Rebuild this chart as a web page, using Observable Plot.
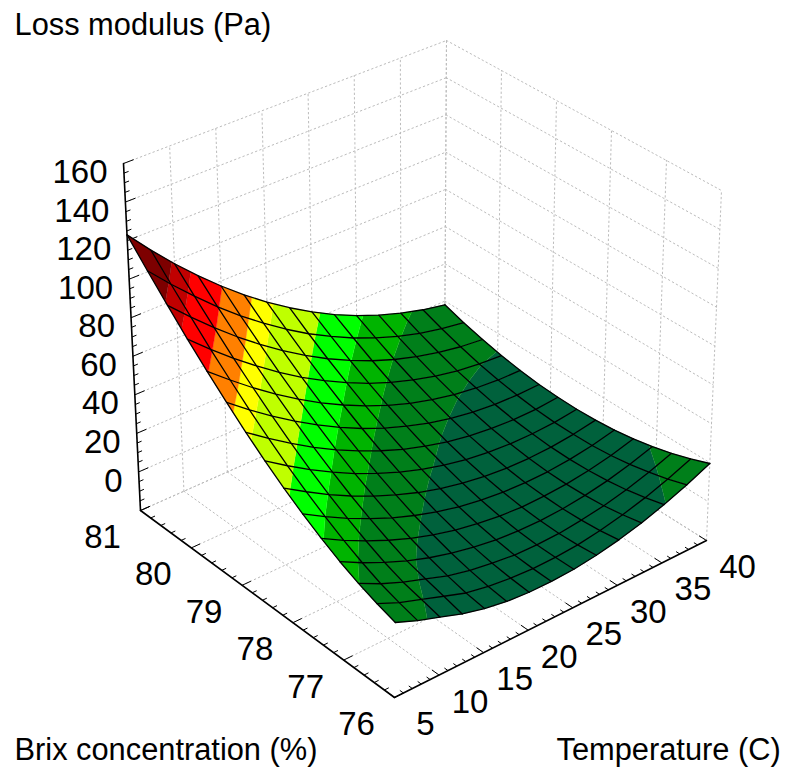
<!DOCTYPE html>
<html>
<head>
<meta charset="utf-8">
<style>html,body{margin:0;padding:0;background:#fff}svg{display:block}</style>
<script src="https://cdn.jsdelivr.net/npm/d3@7"></script>
<script src="https://cdn.jsdelivr.net/npm/@observablehq/plot@0.6"></script>
</head>
<body>
<div id="chart"></div>
<script>
// Grid of the fitted surface (one row per Brix value, one column per temperature)
const temperatures = [5, 7.5, 10, 12.5, 15, 17.5, 20, 22.5, 25, 27.5, 30, 32.5, 35, 37.5, 40];
const brixValues = [81, 80.643, 80.286, 79.929, 79.571, 79.214, 78.857, 78.5, 78.143, 77.786, 77.429, 77.071, 76.714, 76.357, 76];
const lossModulus = [
  [123.0, 110.4, 98.6, 87.6, 77.4, 67.9, 59.3, 51.4, 44.3, 37.9, 32.4, 27.6, 23.6, 20.4, 18.0],
  [110.5, 98.8, 87.9, 77.6, 68.1, 59.4, 51.3, 44.0, 37.6, 31.8, 26.8, 22.6, 19.1, 16.5, 14.6],
  [98.8, 88.0, 77.8, 68.3, 59.5, 51.3, 43.9, 37.2, 31.3, 26.1, 21.7, 18.1, 15.2, 13.1, 11.8],
  [87.7, 77.7, 68.3, 59.5, 51.3, 43.8, 37.1, 31.0, 25.6, 21.0, 17.2, 14.1, 11.7, 10.2, 9.4],
  [77.5, 68.3, 59.5, 51.4, 43.8, 36.9, 30.8, 25.3, 20.5, 16.4, 13.2, 10.6, 8.9, 7.9, 7.7],
  [68.0, 59.4, 51.3, 43.8, 36.9, 30.6, 25.0, 20.1, 16.0, 12.4, 9.7, 7.7, 6.5, 6.1, 6.4],
  [59.2, 51.3, 43.8, 36.8, 30.5, 24.9, 19.9, 15.5, 11.9, 8.9, 6.8, 5.4, 4.7, 4.8, 5.8],
  [51.2, 43.8, 36.9, 30.6, 24.8, 19.8, 15.3, 11.5, 8.5, 6.0, 4.5, 3.6, 3.5, 4.1, 5.6],
  [43.9, 37.1, 30.7, 24.9, 19.7, 15.2, 11.2, 8.0, 5.5, 3.6, 2.6, 2.3, 2.7, 4.0, 6.0],
  [37.4, 31.0, 25.1, 19.9, 15.1, 11.1, 7.7, 5.0, 3.1, 1.8, 1.3, 1.5, 2.5, 4.3, 6.9],
  [31.6, 25.6, 20.2, 15.4, 11.1, 7.7, 4.8, 2.7, 1.2, 0.4, 0.6, 1.3, 2.9, 5.2, 8.4],
  [26.5, 20.9, 15.9, 11.5, 7.8, 4.8, 2.5, 0.8, -0.1, -0.3, 0.3, 1.7, 3.8, 6.7, 10.4],
  [22.2, 16.9, 12.5, 8.9, 5.1, 2.5, 0.7, -0.6, -0.9, -0.6, 0.7, 2.5, 5.2, 8.7, 12.9],
  [18.7, 14.0, 10.3, 6.6, 2.9, 0.8, -0.5, -1.2, -1.0, -0.2, 1.5, 4.0, 7.2, 11.2, 16.0],
  [15.8, 11.5, 8.0, 4.2, 1.5, -0.4, -1.3, -1.4, -0.8, 0.7, 2.9, 5.9, 9.7, 14.2, 19.6]
];
// Contour bands of the surface
const bandLevels = [10, 22, 31, 42, 57, 65, 77, 91, 100];
const bandColors = ["#00613c", "#007f1a", "#00b400", "#00ff00", "#bfff00", "#ffff00", "#ff8000", "#ff0000", "#c00000", "#7d0000"];
// Axis tick labels
const zTicks = [0, 20, 40, 60, 80, 100, 120, 140, 160];
const zGrid = [-20, 0, 20, 40, 60, 80, 100, 120, 140, 160];
const brixTicks = [81, 80, 79, 78, 77, 76];
const tempTicks = [5, 10, 15, 20, 25, 30, 35, 40];
const axisTitles = [
  {text: "Loss modulus (Pa)", px: 14, py: 25},
  {text: "Brix concentration (%)", px: 14, py: 750},
  {text: "Temperature (C)", px: 556, py: 750}
];
// The axes box: data limits and where each of its corners lands on the page
const tRange = [5, 40], bRange = [81, 76], zRange = [-20, 160];
const boxCorners = {
  back:  {floor: [444, 375], top: [446, 40]},
  left:  {floor: [140, 510], top: [123, 163]},
  front: {floor: [394, 697], top: [398, 320]},
  right: {floor: [706, 540], top: [721, 190]}
};

const lerp = (a, b, f) => a + (b - a) * f;
function project(t, b, z) {
  const v = (t - tRange[0]) / (tRange[1] - tRange[0]);
  const u = (b - bRange[0]) / (bRange[1] - bRange[0]);
  const w = (z - zRange[0]) / (zRange[1] - zRange[0]);
  const at = (c) => [lerp(c.floor[0], c.top[0], w), lerp(c.floor[1], c.top[1], w)];
  const L = at(boxCorners.left), Bk = at(boxCorners.back), F = at(boxCorners.front), R = at(boxCorners.right);
  const p = [0, 1].map(k => lerp(lerp(L[k], Bk[k], v), lerp(F[k], R[k], v), u));
  return {x: p[0], y: p[1]};
}
const pt = (t, b, z, extra) => ({...project(t, b, z), ...extra});

// Clip a polygon of {t,b,z} vertices against one contour level
function clip(poly, keep, level) {
  const out = [];
  poly.forEach((p, i) => {
    const q = poly[(i + 1) % poly.length];
    const pin = keep(p.z), qin = keep(q.z);
    if (pin) out.push(p);
    if (pin !== qin) {
      const f = (level - p.z) / (q.z - p.z);
      out.push({t: lerp(p.t, q.t, f), b: lerp(p.b, q.b, f), z: level});
    }
  });
  return out;
}
const vertex = (i, j) => ({t: temperatures[j], b: brixValues[i], z: lossModulus[i][j]});

// Filled bands, painted from the far corner forwards
const bands = [];
let polyId = 0;
for (let i = 0; i < brixValues.length - 1; i++) {
  for (let j = temperatures.length - 2; j >= 0; j--) {
    const cell = [vertex(i, j), vertex(i, j + 1), vertex(i + 1, j + 1), vertex(i + 1, j)];
    for (let k = 0; k < bandColors.length; k++) {
      const lo = k === 0 ? -Infinity : bandLevels[k - 1];
      const hi = k === bandLevels.length ? Infinity : bandLevels[k];
      let poly = cell;
      if (isFinite(lo)) poly = clip(poly, z => z >= lo, lo);
      if (poly.length && isFinite(hi)) poly = clip(poly, z => z < hi, hi);
      if (poly.length < 3) continue;
      const id = polyId++;
      const mid = isFinite(lo) ? lo + 0.5 : hi - 1;
      for (const p of poly) bands.push(pt(p.t, p.b, p.z, {id, band: mid}));
    }
  }
}

// Mesh lines
const mesh = [];
brixValues.forEach((b, i) => temperatures.forEach((t, j) => mesh.push(pt(t, b, lossModulus[i][j], {id: "b" + i}))));
temperatures.forEach((t, j) => brixValues.forEach((b, i) => mesh.push(pt(t, b, lossModulus[i][j], {id: "t" + j}))));

// Dotted grid on the two back walls and the floor
const grid = [];
const seg = (id, a, b) => { grid.push(pt(...a, {id}), pt(...b, {id})); };
zGrid.forEach(z => {
  seg("wb" + z, [tRange[0], 81, z], [tRange[1], 81, z]);
  seg("wt" + z, [40, bRange[0], z], [40, bRange[1], z]);
});
tempTicks.forEach(t => {
  seg("vt" + t, [t, 81, zRange[0]], [t, 81, zRange[1]]);
  seg("ft" + t, [t, 81, zRange[0]], [t, 76, zRange[0]]);
});
brixTicks.forEach(b => {
  seg("vb" + b, [40, b, zRange[0]], [40, b, zRange[1]]);
  seg("fb" + b, [5, b, zRange[0]], [40, b, zRange[0]]);
});

// Axis lines
const axes = [
  pt(5, 81, 160, {id: "z"}), pt(5, 81, -20, {id: "z"}),
  pt(5, 81, -20, {id: "b"}), pt(5, 76, -20, {id: "b"}),
  pt(5, 76, -20, {id: "t"}), pt(40, 76, -20, {id: "t"})
];

// Tick marks, major and minor
const ticks = [];
const tick = (a, b) => { const p = project(...a), q = project(...b); ticks.push({x1: p.x, y1: p.y, x2: q.x, y2: q.y}); };
d3.range(-20, 160.5, 5).forEach(z => tick([5, 81, z], [z % 20 === 0 ? 6.1 : 5.5, 81, z]));
d3.range(0, 25.5).forEach(n => { const b = 81 - n / 5; tick([5, b, -20], [n % 5 === 0 ? 6 : 5.5, b, -20]); });
d3.range(5, 40.5, 1).forEach(t => tick([t, 76, -20], [t, t % 5 === 0 ? 76.14 : 76.07, -20]));

const font = "Liberation Sans, Arial, sans-serif";
const chart = Plot.plot({
  width: 788, height: 778,
  margin: 0,
  x: {domain: [0, 788], range: [0, 788], axis: null},
  y: {domain: [0, 778], range: [0, 778], axis: null},
  color: {type: "threshold", domain: bandLevels, range: bandColors},
  style: {background: "#fff"},
  marks: [
    Plot.line(grid, {x: "x", y: "y", z: "id", stroke: "#bcbcbc", strokeWidth: 1, strokeDasharray: "1.5 3"}),
    Plot.link(ticks, {x1: "x1", y1: "y1", x2: "x2", y2: "y2", stroke: "#000", strokeWidth: 1}),
    Plot.line(axes, {x: "x", y: "y", z: "id", stroke: "#000", strokeWidth: 1.6}),
    Plot.line(bands, {x: "x", y: "y", z: "id", fill: "band", stroke: "band", strokeWidth: 0.4}),
    Plot.line(mesh, {x: "x", y: "y", z: "id", stroke: "#000", strokeWidth: 1.3}),
    Plot.text(zTicks, {
      x: d => project(5, 81, d).x, y: d => project(5, 81, d).y, text: d => String(d),
      dx: -16, dy: 9, textAnchor: "end", fontSize: 33, fontFamily: font, fill: "#000"
    }),
    Plot.text(brixTicks, {
      x: d => project(5, d, -20).x, y: d => project(5, d, -20).y, text: d => String(d),
      dx: -38, dy: 27, textAnchor: "middle", fontSize: 33, fontFamily: font, fill: "#000"
    }),
    Plot.text(tempTicks, {
      x: d => project(d, 76, -20).x, y: d => project(d, 76, -20).y, text: d => String(d),
      dx: 31, dy: 27, textAnchor: "middle", fontSize: 33, fontFamily: font, fill: "#000"
    }),
    Plot.text(axisTitles, {
      x: "px", y: "py", text: "text", textAnchor: "start", fontSize: 30.8, fontFamily: font, fill: "#000"
    })
  ]
});
document.getElementById("chart").append(chart);
</script>
</body>
</html>
